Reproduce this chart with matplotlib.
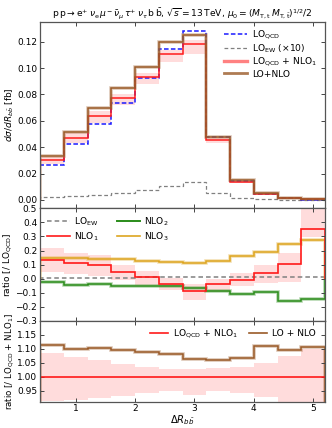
import numpy as np
import matplotlib
matplotlib.use("Agg")
import matplotlib.pyplot as plt
from matplotlib.lines import Line2D

plt.rcParams['font.family'] = ['DejaVu Sans']
plt.rcParams['mathtext.fontset'] = 'dejavusans'

# ---- data -------------------------------------------------------------
edges = [0.4, 0.8, 1.2, 1.6, 2.0, 2.4, 2.8, 3.2, 3.6, 4.0, 4.4, 4.8, 5.2]

lo_qcd   = [0.0265, 0.0422, 0.0574, 0.0735, 0.0922, 0.1143, 0.1284, 0.0475, 0.0144, 0.0045, 0.0013, 0.0003]
lo_ew10  = [0.0020, 0.0030, 0.0035, 0.0053, 0.0073, 0.0106, 0.0134, 0.0051, 0.0018, 0.0006, 0.0003, 0.0002]
lo_nlo1  = [0.0301, 0.0473, 0.0634, 0.0773, 0.0930, 0.1105, 0.1180, 0.0455, 0.0140, 0.0047, 0.0014, 0.0004]
lo_nlo   = [0.0336, 0.0518, 0.0695, 0.0847, 0.1010, 0.1196, 0.1253, 0.0480, 0.0148, 0.0050, 0.0016, 0.0004]

# ratios to LO_QCD
r_ew   = [0.008, 0.008, 0.008, 0.008, 0.009, 0.009, 0.011, 0.010, 0.010, 0.010, 0.010, 0.010]
r_nlo1 = [0.136, 0.113, 0.099, 0.049, 0.009, -0.038, -0.085, -0.040, -0.007, 0.042, 0.108, 0.356]
r_nlo2 = [-0.026, -0.042, -0.040, -0.049, -0.054, -0.049, -0.068, -0.085, -0.106, -0.092, -0.155, -0.141]
r_nlo3 = [0.145, 0.145, 0.143, 0.138, 0.129, 0.120, 0.113, 0.129, 0.159, 0.190, 0.246, 0.275]
r_nlo1_hi = [0.218, 0.185, 0.165, 0.097, 0.054, 0.002, -0.040, -0.005, 0.042, 0.096, 0.183, 0.52]
r_nlo1_lo = [0.049, 0.035, 0.022, -0.008, -0.047, -0.082, -0.150, -0.092, -0.052, -0.028, -0.024, 0.296]

# ratios to LO_QCD + NLO_1
r_lonlo = [1.113, 1.099, 1.103, 1.094, 1.087, 1.083, 1.064, 1.059, 1.066, 1.109, 1.097, 1.105]
band_hi = [1.084, 1.070, 1.060, 1.044, 1.034, 1.027, 1.026, 1.030, 1.034, 1.050, 1.073, 1.099]
band_lo = [0.912, 0.916, 0.922, 0.930, 0.942, 0.949, 0.935, 0.949, 0.940, 0.926, 0.900, 0.890]

# ---- style ------------------------------------------------------------
c_blue = '#1a1aff'
c_grey = '#808080'
c_red = '#ff1a1a'
c_brown = '#9a5a28'
c_green = '#2a8c1a'
c_gold = '#dda520'
c_pink = '#ffdcdc'
fs = 6.5
lfs = 6.6

fig = plt.figure(figsize=(3.32, 4.28), dpi=100)
W = 285 / 332
L = 40 / 332
ax1 = fig.add_axes([L, 1 - 208.3 / 428, W, 186.6 / 428])
ax2 = fig.add_axes([L, 1 - 321.0 / 428, W, 112.7 / 428])
ax3 = fig.add_axes([L, 1 - 401.7 / 428, W, 80.7 / 428])

e = np.array(edges)

def halo(ax, vals, color, lw=1.1):
    ax.stairs(vals, e, color=color, lw=2.6, alpha=0.35)
    ax.stairs(vals, e, color=color, lw=lw)

# top panel
lo_nlo1_a = np.array(lo_nlo1)
ax1.stairs(lo_nlo1_a * np.array(band_hi), e, baseline=lo_nlo1_a * np.array(band_lo),
           fill=True, color=c_pink, lw=0)
ax1.stairs(lo_ew10, e, color=c_grey, lw=0.9, ls=(0, (3, 2)))
ax1.stairs(lo_qcd, e, color=c_blue, lw=1.1, ls=(0, (3, 1.5)))
ax1.stairs(lo_nlo1, e, color=c_red, lw=1.1)
halo(ax1, lo_nlo, c_brown)
ax1.set_ylim(-0.0063, 0.1352)
ax1.set_yticks([0.0, 0.02, 0.04, 0.06, 0.08, 0.10, 0.12])
ax1.set_yticklabels(['0.00', '0.02', '0.04', '0.06', '0.08', '0.10', '0.12'])
ax1.set_ylabel(r'$d\sigma/dR_{b\bar{b}}$ [fb]', fontsize=fs, labelpad=1)
h1 = [Line2D([], [], color=c_blue, lw=1.1, ls=(0, (3, 1.5))),
      Line2D([], [], color=c_grey, lw=0.9, ls=(0, (3, 2))),
      Line2D([], [], color=c_red, lw=2.4, alpha=0.55),
      Line2D([], [], color=c_brown, lw=2.0, alpha=0.8)]
l1 = [r'LO$_\mathrm{QCD}$', r'LO$_\mathrm{EW}$ ($\times$10)',
      r'LO$_\mathrm{QCD}$ + NLO$_1$', 'LO+NLO']
ax1.legend(h1, l1, loc='upper right', frameon=False, fontsize=lfs,
           handlelength=2.6, handletextpad=0.5, borderaxespad=0.3,
           labelspacing=0.12, bbox_to_anchor=(0.995, 1.0))
ax1.set_title(r'$\mathrm{p\,p}\rightarrow\mathrm{e}^{+}\,\nu_\mathrm{e}\,\mu^{-}\,\bar{\nu}_\mu\,\tau^{+}\,\nu_\tau\,\mathrm{b}\,\bar{\mathrm{b}}$, '
              r'$\sqrt{s}=13\,\mathrm{TeV}$, $\mu_0=(M_{\mathrm{T,t}}\,M_{\mathrm{T,\bar{t}}})^{1/2}/2$',
              fontsize=6.6, pad=4)

# middle panel
ax2.stairs(r_nlo1_hi, e, baseline=r_nlo1_lo, fill=True, color=c_pink, lw=0)
ax2.stairs(r_ew, e, color=c_grey, lw=1.1, ls=(0, (3, 2)))
halo(ax2, r_nlo2, c_green)
halo(ax2, r_nlo3, c_gold)
ax2.stairs(r_nlo1, e, color=c_red, lw=1.2)
ax2.set_ylim(-0.3, 0.5)
yt2 = [-0.3, -0.2, -0.1, 0.0, 0.1, 0.2, 0.3, 0.4, 0.5]
ax2.set_yticks(yt2)
ax2.set_yticklabels([f'{v:.1f}'.replace('-', '\u2212') for v in yt2])
ax2.set_ylabel(r'ratio [/ LO$_\mathrm{QCD}$]', fontsize=fs, labelpad=1)
h2 = [Line2D([], [], color=c_grey, lw=1.1, ls=(0, (3, 2))),
      Line2D([], [], color=c_red, lw=1.2),
      Line2D([], [], color=c_green, lw=1.4),
      Line2D([], [], color=c_gold, lw=1.2)]
l2 = [r'LO$_\mathrm{EW}$', r'NLO$_1$', r'NLO$_2$', r'NLO$_3$']
ax2.legend(h2, l2, loc='upper left', ncol=2, frameon=False, fontsize=lfs,
           handlelength=2.5, handletextpad=0.4, columnspacing=2.0,
           labelspacing=0.25, borderaxespad=0.4)

# bottom panel
ax3.stairs(band_hi, e, baseline=band_lo, fill=True, color=c_pink, lw=0)
ax3.axhline(1.0, color=c_red, lw=1.2)
halo(ax3, r_lonlo, c_brown)
ax3.set_ylim(0.91, 1.2)
ax3.set_yticks([0.95, 1.00, 1.05, 1.10, 1.15])
ax3.set_yticklabels(['0.95', '1.00', '1.05', '1.10', '1.15'])
ax3.set_ylabel(r'ratio [/ LO$_\mathrm{QCD}$ + NLO$_1$]', fontsize=6.2, labelpad=1)
ax3.set_xlabel(r'$\Delta R_{b\bar{b}}$', fontsize=7.2, labelpad=0)
h3 = [Line2D([], [], color=c_red, lw=1.2), Line2D([], [], color=c_brown, lw=1.2)]
l3 = [r'LO$_\mathrm{QCD}$ + NLO$_1$', 'LO + NLO']
ax3.legend(h3, l3, loc='upper right', ncol=2, frameon=False, fontsize=lfs,
           handlelength=2.0, handletextpad=0.5, columnspacing=1.2,
           borderaxespad=0.3, bbox_to_anchor=(0.99, 1.0))

for ax in (ax1, ax2, ax3):
    ax.set_xlim(0.4, 5.2)
    ax.set_xticks([1, 2, 3, 4, 5])
    ax.tick_params(direction='in', top=True, right=True, labelsize=fs,
                   length=3, width=0.7, color='#444444', pad=2)
    for s in ax.spines.values():
        s.set_color('#555555')
        s.set_linewidth(0.9)
ax1.tick_params(labelbottom=False)
ax2.tick_params(labelbottom=False)

fig.savefig('out.png', dpi=100)
